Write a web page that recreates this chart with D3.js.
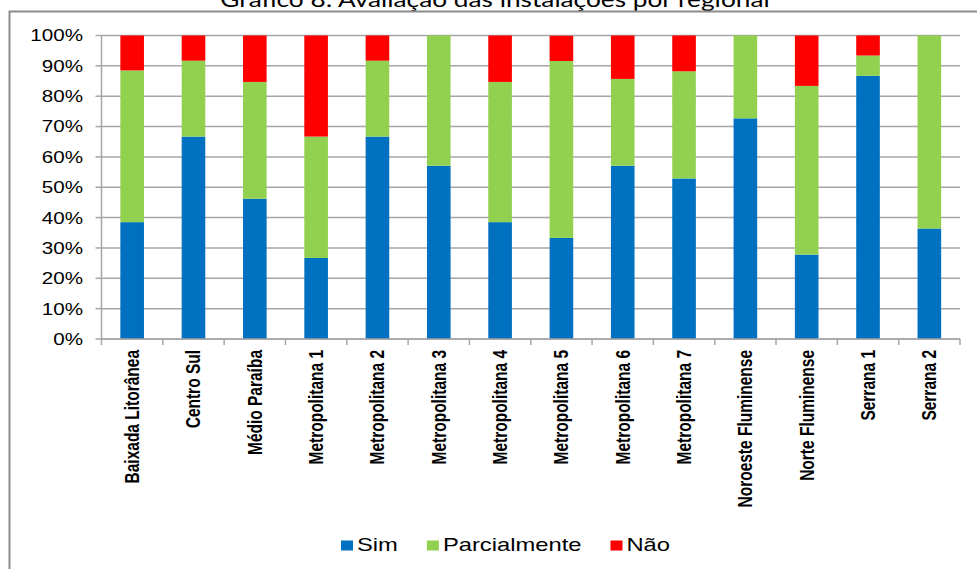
<!DOCTYPE html>
<html>
<head>
<meta charset="utf-8">
<script src="https://cdn.jsdelivr.net/npm/d3@7"></script>
<style>
  body { margin: 0; background: #fff; }
  svg { display: block; }
</style>
</head>
<body>
<div id="chart"></div>
<script>
// Data (percent of answers per regional)
var categories = ["Baixada Litorânea", "Centro Sul", "Médio Paraíba", "Metropolitana 1",
  "Metropolitana 2", "Metropolitana 3", "Metropolitana 4", "Metropolitana 5",
  "Metropolitana 6", "Metropolitana 7", "Noroeste Fluminense", "Norte Fluminense",
  "Serrana 1", "Serrana 2"];
var sim = [38.5, 66.7, 46.2, 26.7, 66.7, 57.1, 38.5, 33.3, 57.1, 52.9, 72.7, 27.8, 86.7, 36.4];
var parcialmente = [50.0, 25.0, 38.5, 40.0, 25.0, 42.9, 46.2, 58.3, 28.6, 35.3, 27.3, 55.6, 6.7, 63.6];
var nao = [11.5, 8.3, 15.4, 33.3, 8.3, 0, 15.4, 8.3, 14.3, 11.8, 0, 16.7, 6.7, 0];
var seriesNames = ["Sim", "Parcialmente", "Não"];
var yTicks = [0, 10, 20, 30, 40, 50, 60, 70, 80, 90, 100];
var title = "Gráfico 8: Avaliação das instalações por regional";

var width = 977, height = 569;
var colors = { "Sim": "#0070c0", "Parcialmente": "#92d050", "Não": "#ff0000" };
// the source picture is stretched sideways, so text is too
var stretch = 1.25;

var svg = d3.select("#chart").append("svg")
  .attr("width", width)
  .attr("height", height);

// title, partly cut off by the top edge like in the source
svg.append("text")
  .attr("transform", "translate(495,7) scale(" + stretch + ",1)")
  .attr("text-anchor", "middle")
  .attr("font-family", "Lato, 'Open Sans', sans-serif")
  .attr("font-size", 21)
  .attr("fill", "#000")
  .text(title);

// chart frame (runs off the right and bottom)
svg.append("rect")
  .attr("x", 9.5).attr("y", 11.5)
  .attr("width", 1000).attr("height", 600)
  .attr("fill", "none")
  .attr("stroke", "#8c8c8c")
  .attr("stroke-width", 2);

var plot = { left: 101.5, right: 960, top: 35.5, bottom: 339 };

var x = d3.scaleBand()
  .domain(categories)
  .range([plot.left, plot.right])
  .paddingInner(0.615)
  .paddingOuter(0.3075);

var y = d3.scaleLinear()
  .domain([0, 100])
  .range([plot.bottom, plot.top]);

// gridlines
svg.append("g")
  .selectAll("line")
  .data(yTicks)
  .join("line")
  .attr("x1", plot.left).attr("x2", plot.right)
  .attr("y1", function(d) { return y(d); })
  .attr("y2", function(d) { return y(d); })
  .attr("stroke", "#a6a6a6")
  .attr("stroke-width", 1.5);

// stacked bars
var rows = categories.map(function(c, i) {
  return { cat: c, "Sim": sim[i], "Parcialmente": parcialmente[i], "Não": nao[i] };
});
var stacked = d3.stack().keys(seriesNames)(rows);

svg.append("g")
  .selectAll("g")
  .data(stacked)
  .join("g")
  .attr("fill", function(s) { return colors[s.key]; })
  .selectAll("rect")
  .data(function(s) { return s; })
  .join("rect")
  .attr("x", function(d) { return x(d.data.cat); })
  .attr("width", x.bandwidth())
  .attr("y", function(d) { return y(Math.min(100, d[1])); })
  .attr("height", function(d) { return Math.max(0, y(d[0]) - y(Math.min(100, d[1]))); });

// y axis
var yAxis = svg.append("g");
yAxis.append("line")
  .attr("x1", plot.left).attr("x2", plot.left)
  .attr("y1", plot.top).attr("y2", plot.bottom)
  .attr("stroke", "#a6a6a6").attr("stroke-width", 1.5);
yAxis.selectAll("line.tick")
  .data(yTicks)
  .join("line")
  .attr("class", "tick")
  .attr("x1", plot.left - 6).attr("x2", plot.left)
  .attr("y1", function(d) { return y(d); })
  .attr("y2", function(d) { return y(d); })
  .attr("stroke", "#a6a6a6").attr("stroke-width", 1.5);
yAxis.selectAll("text")
  .data(yTicks)
  .join("text")
  .attr("transform", function(d) {
    return "translate(83," + y(d) + ") scale(" + stretch + ",1)";
  })
  .attr("dy", "0.36em")
  .attr("text-anchor", "end")
  .attr("font-family", "'Liberation Sans', Arial, sans-serif")
  .attr("font-size", 16.5)
  .attr("fill", "#000")
  .text(function(d) { return d + "%"; });

// x axis
var xAxis = svg.append("g");
xAxis.append("line")
  .attr("x1", plot.left).attr("x2", plot.right)
  .attr("y1", plot.bottom).attr("y2", plot.bottom)
  .attr("stroke", "#a6a6a6").attr("stroke-width", 1.5);
var step = x.step();
var boundaries = d3.range(categories.length + 1).map(function(i) { return plot.left + i * step; });
xAxis.selectAll("line.tick")
  .data(boundaries)
  .join("line")
  .attr("class", "tick")
  .attr("x1", function(d) { return d; })
  .attr("x2", function(d) { return d; })
  .attr("y1", plot.bottom).attr("y2", plot.bottom + 6)
  .attr("stroke", "#a6a6a6").attr("stroke-width", 1.5);
xAxis.selectAll("text")
  .data(categories)
  .join("text")
  .attr("transform", function(d) {
    var cx = x(d) + x.bandwidth() / 2;
    return "translate(" + cx + ",350) scale(" + stretch + ",1) rotate(-90)";
  })
  .attr("dy", "0.36em")
  .attr("text-anchor", "end")
  .attr("font-family", "'Liberation Sans', Arial, sans-serif")
  .attr("font-weight", "bold")
  .attr("font-size", 15.5)
  .attr("fill", "#000")
  .text(function(d) { return d; });

// legend
var legend = svg.append("g").attr("transform", "translate(341,0)");
var lx = 0;
seriesNames.forEach(function(name) {
  legend.append("rect")
    .attr("x", lx).attr("y", 540.5)
    .attr("width", 12).attr("height", 10)
    .attr("fill", colors[name]);
  var t = legend.append("text")
    .attr("transform", "translate(" + (lx + 16) + ",551) scale(" + stretch + ",1)")
    .attr("font-family", "'Liberation Sans', Arial, sans-serif")
    .attr("font-size", 19)
    .attr("fill", "#000")
    .text(name);
  lx += 16 + t.node().getComputedTextLength() * stretch + 29;
});
</script>
</body>
</html>
